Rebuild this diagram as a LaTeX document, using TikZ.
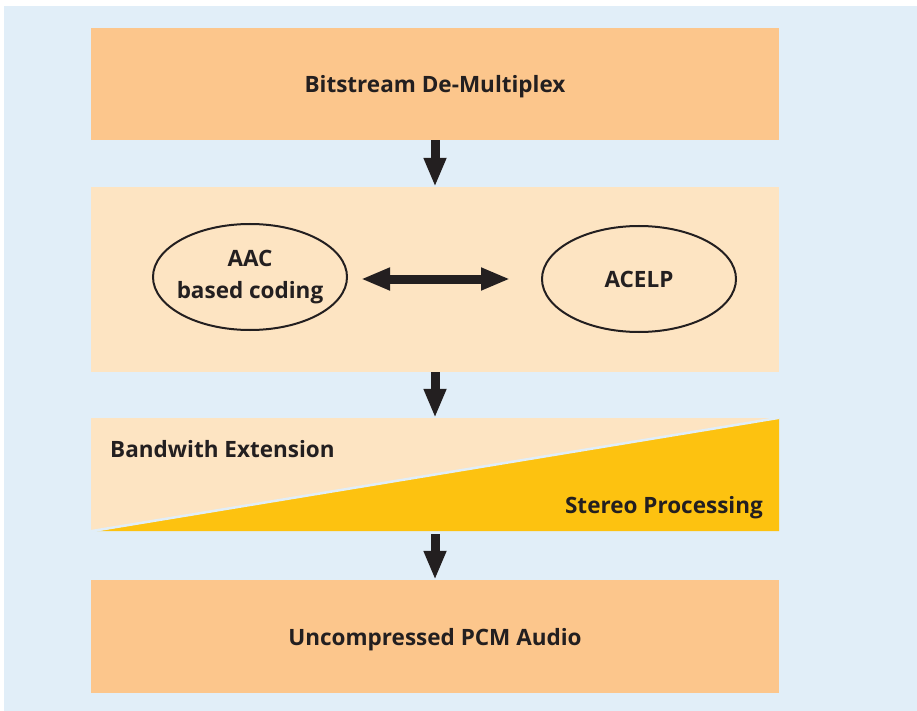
\documentclass[tikz,border=0pt]{standalone}
\usepackage{fontspec}
\setmainfont{Open Sans}
\usepackage{tikz}
\usetikzlibrary{arrows.meta,shapes.geometric}
\usepackage{xcolor}
\definecolor{bgblue}{HTML}{E1EEF8}
\definecolor{boxorange}{HTML}{FCC68C}
\definecolor{lightpeach}{HTML}{FDE4C2}
\definecolor{stereoyellow}{HTML}{FDC210}
\definecolor{ink}{HTML}{231F20}

\begin{document}
\begin{tikzpicture}[x=1pt, y=-1pt,
  box/.style={fill=boxorange, minimum width=688pt, minimum height=112pt, inner sep=0pt, text depth=0pt, font=\fontsize{22.5}{27}\selectfont\bfseries, text=ink},
  oval/.style={ellipse, draw=ink, line width=2pt, minimum width=194pt, minimum height=106pt, inner xsep=-6pt, inner ysep=0pt, align=center, font=\fontsize{22.5}{32.5}\selectfont\bfseries, text=ink},
  lbl/.style={font=\fontsize{22.5}{27}\selectfont\bfseries, text=ink, inner sep=0pt},
  arr/.style={-{Triangle[length=29pt, width=21pt]}, line width=9pt, ink},
  darr/.style={{Triangle[length=29pt, width=21pt]}-{Triangle[length=29pt, width=21pt]}, line width=9pt, ink}
]
\useasboundingbox (0,0) rectangle (917,711);
\fill[bgblue] (4,6) rectangle (917,711);

\node[box] (demux) at (435,84) {Bitstream De-Multiplex};
\node[box, fill=lightpeach, minimum height=185pt] (core) at (435,279.5) {};
\node[box, fill=lightpeach, minimum height=113pt] (bwe) at (435,474.5) {};
\node[box, minimum height=113pt] (pcm) at (435,636.5) {Uncompressed PCM Audio};

\fill[stereoyellow] ([xshift=6pt]bwe.south west) -- (bwe.north east) -- (bwe.south east) -- cycle;
\draw[bgblue, line width=2.5pt] (bwe.south west) -- (bwe.north east);
\node[lbl, anchor=base west] (bwelbl) at (110,457) {Bandwith Extension};
\node[lbl, anchor=base east] (stereolbl) at (763,513) {Stereo Processing};

\node[oval] (aac) at (250,277) {AAC\\based coding};
\node[oval] (acelp) at (639,279) {ACELP};

\draw[arr] (demux) -- (core);
\draw[arr] (core) -- (bwe);
\draw[arr] ([yshift=-3pt]bwe.south) -- (pcm);
\draw[darr] ([xshift=13pt]aac.east |- acelp.west) -- ([xshift=-31pt]acelp.west);
\end{tikzpicture}
\end{document}
